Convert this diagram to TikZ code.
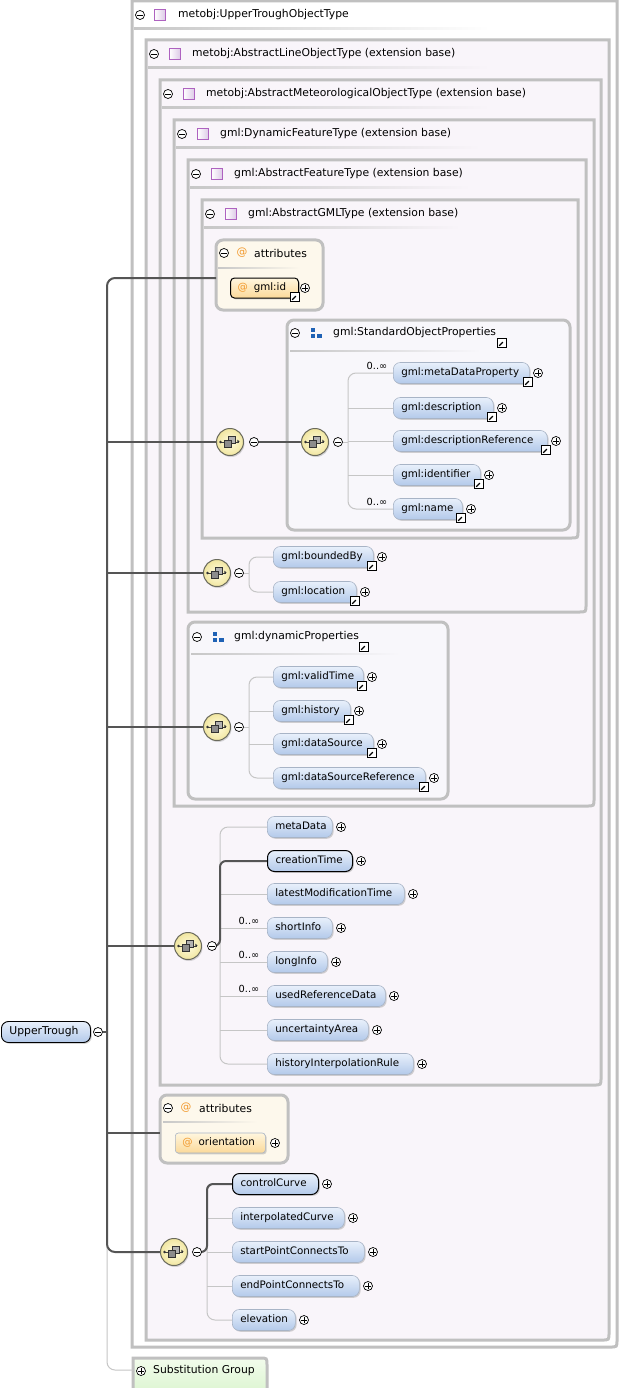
\documentclass[tikz,border=0pt]{standalone}
\usepackage{fontspec}
\setmainfont{DejaVu Sans}
\usetikzlibrary{shadows,calc}
\definecolor{bxb}{HTML}{C0C0C0}
\definecolor{lav}{HTML}{F9F5FA}
\definecolor{grpf}{HTML}{F8F7FB}
\definecolor{attf}{HTML}{FDF8EC}
\definecolor{eltop}{HTML}{E8F0FB}
\definecolor{elbot}{HTML}{B3C9EA}
\definecolor{elbd}{HTML}{A8B4C6}
\definecolor{seqin}{HTML}{FFFCE0}
\definecolor{seqout}{HTML}{F1E6A0}
\definecolor{seqbd}{HTML}{6A6A5C}
\definecolor{tpur}{HTML}{AE62C0}
\definecolor{tpurl}{HTML}{DCC8E6}
\definecolor{gblue}{HTML}{1F62B5}
\definecolor{spinec}{HTML}{555555}
\definecolor{treec}{HTML}{C6C6C6}
\definecolor{atorange}{HTML}{F29A2E}
\definecolor{attop}{HTML}{FFF6DE}
\definecolor{atbot}{HTML}{FBD999}
\definecolor{sgtop}{HTML}{F2FCEC}
\definecolor{sgbot}{HTML}{D9F4CD}
\pgfdeclarelayer{bg}\pgfdeclarelayer{ln}\pgfsetlayers{bg,ln,main}
\tikzset{
 every node/.style={font=\fontsize{10.3}{12}\selectfont},
 gbox/.style={draw=bxb, line width=3pt, rounded corners=7pt},
 elem/.style={anchor=west, inner xsep=8pt, inner ysep=0pt, minimum height=21pt,
   text height=8pt, text depth=2.5pt, rounded corners=7pt, draw=elbd, line width=0.6pt,
   top color=eltop, bottom color=elbot,
   drop shadow={shadow xshift=1.3pt, shadow yshift=-1.3pt, opacity=0.35}},
 req/.style={draw=black, line width=1pt},
 atbox/.style={anchor=west, inner xsep=7pt, inner ysep=0pt, minimum height=20pt,
   text height=8pt, text depth=2.5pt, rounded corners=3pt, draw=elbd, line width=0.6pt,
   top color=attop, bottom color=atbot,
   drop shadow={shadow xshift=1.3pt, shadow yshift=-1.3pt, opacity=0.35}},
 pmc/.style={circle, draw=black, line width=0.7pt, fill=white, minimum size=9pt, inner sep=0pt},
 minusn/.style={pmc, path picture={\draw[line width=0.7pt]
   ([xshift=-2.6pt]path picture bounding box.center) -- ([xshift=2.6pt]path picture bounding box.center);}},
 plusn/.style={pmc, path picture={\draw[line width=0.7pt]
   ([xshift=-2.6pt]path picture bounding box.center) -- ([xshift=2.6pt]path picture bounding box.center)
   ([yshift=-2.6pt]path picture bounding box.center) -- ([yshift=2.6pt]path picture bounding box.center);}},
 lnk/.style={rectangle, draw=black, line width=0.9pt, fill=white, minimum size=9.5pt, inner sep=0pt,
   path picture={\begin{scope}[shift={(path picture bounding box.center)},x=1pt,y=1pt]
     \draw[line width=1.2pt] (-2.8,-2.8) -- (1,1);
     \fill (3.3,3.3) -- (-1.2,3.3) -- (3.3,-1.2) -- cycle;
   \end{scope}}},
 seq/.style={circle, minimum size=27pt, inner sep=0pt, draw=seqbd, line width=1pt,
   inner color=seqin, outer color=seqout,
   drop shadow={shadow xshift=1pt, shadow yshift=-1.5pt, opacity=0.3},
   path picture={\begin{scope}[shift={(path picture bounding box.center)},x=1pt,y=1pt]
     \draw[line width=0.7pt,black!75] (-9.5,0) -- (9,0);
     \fill[black!80] (-9.5,0) circle (1.3);
     \fill[black!80] (9.5,0.6) -- (7.3,2.4) -- (7.3,-1.2) -- cycle;
     \draw[black!80, line width=0.6pt, fill=black!30] (-1.5,-1.5) rectangle (5.5,5.5);
     \draw[black!80, line width=0.6pt, fill=black!45] (-5.5,-5) rectangle (1.5,2);
   \end{scope}}},
 tsq/.style={rectangle, draw=tpur, line width=0.9pt, minimum size=11.5pt, inner sep=0pt,
   left color=white, right color=tpurl},
 grp/.style={rectangle, minimum size=12pt, inner sep=0pt,
   path picture={\begin{scope}[shift={(path picture bounding box.center)},x=1pt,y=1pt]
     \fill[gblue] (-5.5,0.8) rectangle (-1.2,5.1);
     \fill[gblue] (-5.5,-5.1) rectangle (-1.2,-0.8);
     \fill[gblue] (1.2,-5.1) rectangle (5.5,-0.8);
   \end{scope}}},
 atn/.style={inner sep=0pt, minimum size=9pt,
   label={[text=atorange, inner sep=0pt, font=\fontsize{10.8}{12}\selectfont]center:@}},
 hdt/.style={anchor=west, inner sep=0pt, font=\fontsize{10.8}{12}\selectfont},
 occ/.style={inner sep=0pt, font=\fontsize{9.8}{11}\selectfont},
 spine/.style={draw=spinec, line width=2pt},
 tree/.style={draw=treec, line width=1pt},
}
% type box with rounded bottom-right corner
\newcommand\TBox[5]{\draw[draw=bxb, line width=3pt, fill=#1] (#2,#3) -- (#4,#3) -- (#4,#5-7)
  .. controls (#4,#5) .. (#4-7,#5) -- (#2,#5) -- cycle;}
% separator under a header: x1, x2, y, background colour
\newcommand\Sep[4]{\shade[left color=black!22, right color=#4] (#1,#3) rectangle (#2,#3+1.6);}
% header: name, xminus, y, iconstyle, xicon, xtext, text
\newcommand\Hd[7]{\node[minusn] (#1-m) at (#2,#3) {};
  \node[#4] (#1-i) at (#5,#3) {};
  \node[hdt] (#1-t) at (#6,#3) {#7};}
% element: [opts] name, xleft, y, xplus, text
\newcommand\El[6][]{\node[elem,#1] (#2) at (#3,#4) {\makebox[\dimexpr #5pt-#3pt-25pt\relax][l]{#6}};
  \node[plusn] (#2-p) at (#5,#4) {};}
\newcommand\Ell[6][]{\El[#1]{#2}{#3}{#4}{#5}{#6}\node[lnk] (#2-l) at (#5-10,#4+9) {};}
\newcommand\Seq[4]{\node[seq] (#1) at (#2,#3) {}; \node[minusn] (#1-m) at (#4,#3) {};}

\begin{document}
\begin{tikzpicture}[x=1pt,y=-1pt]
\useasboundingbox (0,0) rectangle (619,1388);

\begin{pgfonlayer}{bg}
\fill[white] (0,0) rectangle (619,1388);
\TBox{white}{132}{1}{617}{1347}
\Sep{134}{490}{28}{white}
\TBox{lav}{146}{40}{609}{1340}
\Sep{148}{490}{67}{lav}
\TBox{lav}{160}{80}{601}{1085}
\Sep{162}{490}{107}{lav}
\TBox{lav}{174}{120}{594}{806}
\Sep{176}{480}{147}{lav}
\TBox{lav}{188}{160}{586}{612}
\Sep{190}{470}{187}{lav}
\TBox{lav}{202}{200}{578}{538}
\Sep{204}{460}{227}{lav}
\draw[gbox, fill=attf] (216,240) rectangle (323,310);
\Sep{218}{300}{267}{attf}
\draw[gbox, fill=grpf] (287,320) rectangle (570,530);
\Sep{290}{480}{350}{grpf}
\draw[gbox, fill=grpf] (188,622) rectangle (448,799);
\Sep{191}{400}{653}{grpf}
\draw[gbox, fill=attf] (160,1095) rectangle (288,1163);
\Sep{163}{257}{1121}{attf}
\draw[draw=bxb, line width=3pt, top color=sgtop, bottom color=sgbot]
  (133,1398) -- (133,1358) -- (260,1358) .. controls (267,1358) .. (267,1365) -- (267,1398);
\end{pgfonlayer}

% headers of the type boxes
\Hd{h1}{140}{15}{tsq}{160}{178}{metobj:UpperTroughObjectType}
\Hd{h2}{154}{54}{tsq}{175}{192}{metobj:AbstractLineObjectType (extension base)}
\Hd{h3}{168}{94}{tsq}{189}{206}{metobj:AbstractMeteorologicalObjectType (extension base)}
\Hd{h4}{182}{134}{tsq}{203}{220}{gml:DynamicFeatureType (extension base)}
\Hd{h5}{196}{174}{tsq}{217}{234}{gml:AbstractFeatureType (extension base)}
\Hd{h6}{210}{214}{tsq}{231}{248}{gml:AbstractGMLType (extension base)}

% attributes of gml:AbstractGMLType
\Hd{ha}{224}{253}{atn}{242}{254}{attributes}
\node[atbox, req, rounded corners=4pt] (gid) at (230,288) {\makebox[54pt][l]{{\color{atorange}@}\hspace{6pt}gml:id}};
\node[plusn] (gid-p) at (305,288) {};
\node[lnk] (gid-l) at (295,297) {};

% gml:StandardObjectProperties
\Hd{hs}{295}{333}{grp}{316}{333}{gml:StandardObjectProperties}
\node[lnk] (hs-l) at (502,343) {};
\Seq{sqA}{230}{442}{254}
\Seq{sqA2}{315}{442}{338}
\Ell{mdp}{393}{373}{538}{gml:metaDataProperty}
\Ell{desc}{393}{408}{502}{gml:description}
\Ell{dref}{393}{441}{556}{gml:descriptionReference}
\Ell{ident}{393}{475}{489}{gml:identifier}
\Ell{gname}{393}{509}{471}{gml:name}
\node[occ] (o1) at (377,366) {0..∞};
\node[occ] (o2) at (377,502) {0..∞};

% boundedBy / location
\Seq{sqB}{217}{573}{239}
\Ell{bby}{273}{557}{382}{gml:boundedBy}
\Ell{loc}{273}{592}{365}{gml:location}

% gml:dynamicProperties
\Hd{hd}{197}{637}{grp}{218}{234}{gml:dynamicProperties}
\node[lnk] (hd-l) at (364,647) {};
\Seq{sqC}{217}{727}{239}
\Ell{vt}{273}{677}{372}{gml:validTime}
\Ell{hist}{273}{711}{359}{gml:history}
\Ell{dsrc}{273}{744}{382}{gml:dataSource}
\Ell{dsr}{273}{778}{434}{gml:dataSourceReference}

% meteorological object sequence
\Seq{sqD}{188}{946}{212}
\El{md}{267}{827}{341}{metaData}
\El[req]{ct}{267}{861}{361}{creationTime}
\El{lmt}{267}{894}{413}{latestModificationTime}
\El{si}{267}{928}{341}{shortInfo}
\El{li}{267}{962}{336}{longInfo}
\El{urd}{267}{996}{394}{usedReferenceData}
\El{ua}{267}{1030}{377}{uncertaintyArea}
\El{hir}{267}{1064}{422}{historyInterpolationRule}
\node[occ] (o3) at (249,921) {0..∞};
\node[occ] (o4) at (249,955) {0..∞};
\node[occ] (o5) at (249,989) {0..∞};

% attributes of UpperTroughObjectType
\Hd{hb}{168}{1108}{atn}{186}{199}{attributes}
\node[atbox] (ori) at (175,1143) {\makebox[76pt][l]{{\color{atorange}@}\hspace{6pt}orientation}};
\node[plusn] (ori-p) at (275,1143) {};

% line object sequence
\Seq{sqE}{174}{1252}{197}
\El[req]{cc}{232}{1184}{327}{controlCurve}
\El{ic}{232}{1218}{353}{interpolatedCurve}
\El{sp}{232}{1252}{373}{startPointConnectsTo}
\El{ep}{232}{1286}{368}{endPointConnectsTo}
\El{elev}{232}{1320}{304}{elevation}

% root element
\node[elem, req, line width=0.9pt] (UT) at (1,1032) {\makebox[73pt][l]{\fontsize{10.8}{12}\selectfont UpperTrough}};
\node[minusn] (UT-m) at (98,1032) {};

% substitution group
\node[plusn] (sg-p) at (141,1371) {};
\node[hdt] (sg-t) at (153,1371) {Substitution Group};

% connectors
\coordinate (spx) at (107,1032);
\coordinate (attA-in) at (216,278);
\coordinate (attB-in) at (160,1133);
\coordinate (sg-in) at (133,1370);
\coordinate (vA) at (348,442);
\coordinate (vB) at (249,573);
\coordinate (vC) at (249,727);
\coordinate (vD) at (220,946);
\coordinate (vE) at (207,1252);
\begin{pgfonlayer}{ln}
\draw[tree, rounded corners=8pt] (spx) |- (sg-in);
\draw[spine, rounded corners=8pt] (attA-in) -| (spx) |- (sqE.west);
\draw[spine] (UT-m.east) -- (spx);
\draw[spine] (spx |- sqA.west) -- (sqA.west);
\draw[spine] (spx |- sqB.west) -- (sqB.west);
\draw[spine] (spx |- sqC.west) -- (sqC.west);
\draw[spine] (spx |- sqD.west) -- (sqD.west);
\draw[spine] (spx |- attB-in) -- (attB-in);
\draw[spine] (sqA-m.east) -- (sqA2.west);
% standard object properties tree
\draw[tree] (sqA2-m.east) -- (vA);
\draw[tree, rounded corners=8pt] (mdp.west) -| (vA) |- (gname.west);
\draw[tree] (vA |- desc.west) -- (desc.west);
\draw[tree] (vA |- dref.west) -- (dref.west);
\draw[tree] (vA |- ident.west) -- (ident.west);
% boundedBy tree
\draw[tree] (sqB-m.east) -- (vB);
\draw[tree, rounded corners=8pt] (bby.west) -| (vB) |- (loc.west);
% dynamic properties tree
\draw[tree] (sqC-m.east) -- (vC);
\draw[tree, rounded corners=8pt] (vt.west) -| (vC) |- (dsr.west);
\draw[tree] (vC |- hist.west) -- (hist.west);
\draw[tree] (vC |- dsrc.west) -- (dsrc.west);
% meteorological tree
\draw[tree, rounded corners=8pt] (md.west) -| (vD) |- (hir.west);
\foreach \n in {lmt,si,li,urd,ua} \draw[tree] (vD |- \n.west) -- (\n.west);
\draw[spine, rounded corners=6pt] (sqD-m.east) -- (vD) |- (ct.west);
% line object tree
\draw[tree, rounded corners=8pt] (cc.west) -| (vE) |- (elev.west);
\foreach \n in {ic,sp,ep} \draw[tree] (vE |- \n.west) -- (\n.west);
\draw[spine, rounded corners=6pt] (sqE-m.east) -- (vE) |- (cc.west);
\end{pgfonlayer}
\end{tikzpicture}
\end{document}
